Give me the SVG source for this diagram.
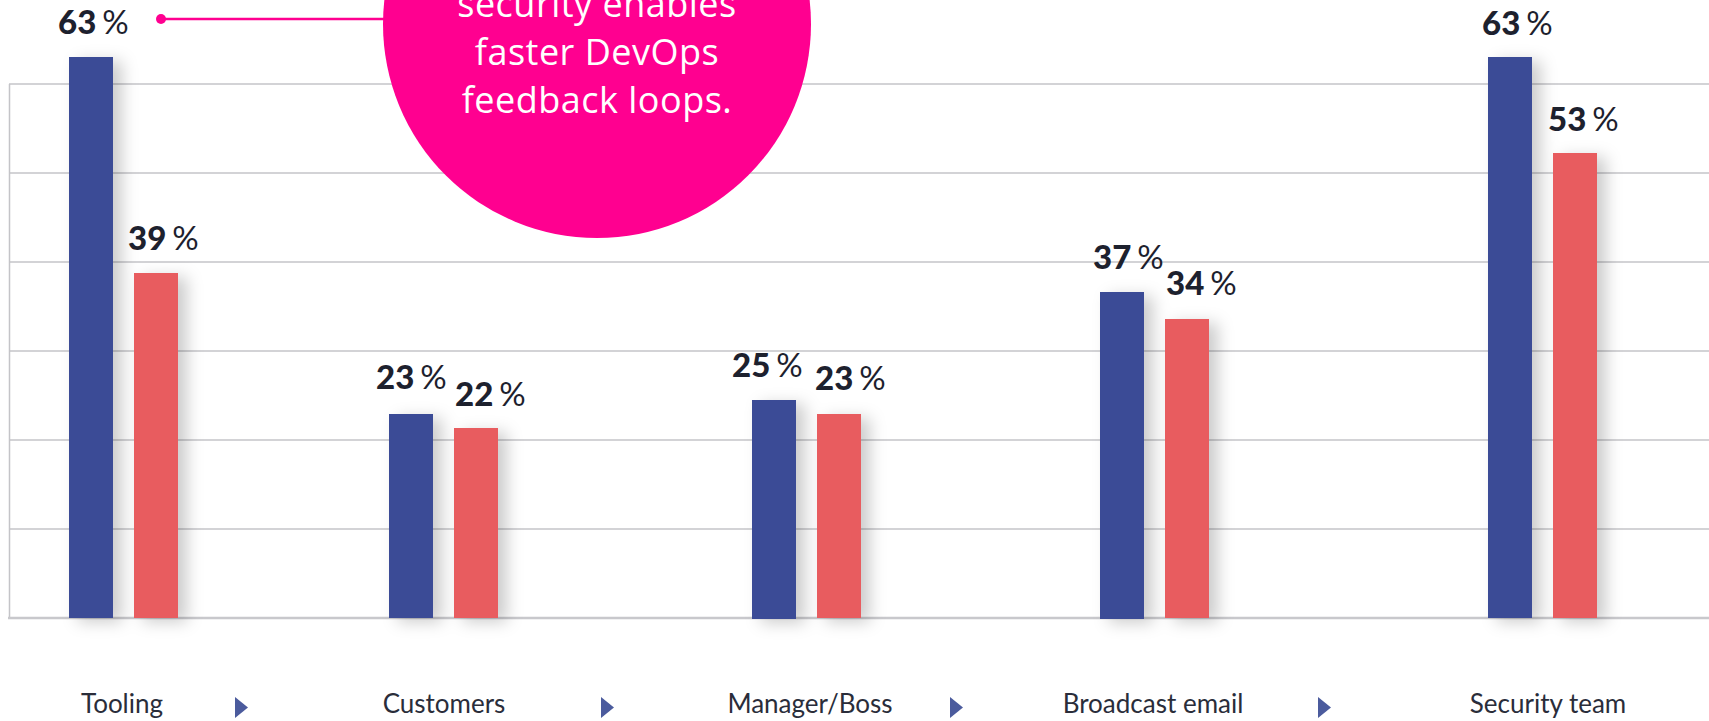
<svg xmlns="http://www.w3.org/2000/svg" width="1709" height="721" viewBox="0 0 1709 721">
<style>
.grid{stroke:#c4c4c8;stroke-width:1.5;fill:none}
.axis{stroke:#c8c8cc;stroke-width:2.5;fill:none}
.blue{fill:#3b4c96}
.red{fill:#e85c5f}
.pct{font-family:Lato,"Liberation Sans",sans-serif;font-size:33px;font-weight:900;fill:#1d212e}
.pct tspan.p{font-weight:400}
.cat{font-family:Lato,"Liberation Sans",sans-serif;font-size:26px;fill:#2a2d3a;text-anchor:middle}
.call{font-family:"Open Sans",Lato,sans-serif;font-size:36px;font-weight:400;letter-spacing:0.5px;fill:#ffffff;text-anchor:middle}
.tri{fill:#4b5b9d}
</style>
<defs>
<filter id="sh" x="-50%" y="-20%" width="250%" height="140%">
<feGaussianBlur in="SourceAlpha" stdDeviation="8"/>
<feOffset dx="9" dy="4" result="b"/>
<feFlood flood-color="#000" flood-opacity="0.2"/>
<feComposite in2="b" operator="in"/>
<feMerge><feMergeNode/><feMergeNode in="SourceGraphic"/></feMerge>
</filter>
</defs>
<rect width="1709" height="721" fill="#ffffff"/>
<g id="grid">
<line class="grid" x1="9" y1="84" x2="1709" y2="84"/>
<line class="grid" x1="9" y1="173" x2="1709" y2="173"/>
<line class="grid" x1="9" y1="262" x2="1709" y2="262"/>
<line class="grid" x1="9" y1="351" x2="1709" y2="351"/>
<line class="grid" x1="9" y1="440" x2="1709" y2="440"/>
<line class="grid" x1="9" y1="529" x2="1709" y2="529"/>
<line class="grid" x1="9.5" y1="84" x2="9.5" y2="618"/>
<line class="axis" x1="8" y1="618" x2="1709" y2="618"/>
</g>
<g id="bars" filter="url(#sh)">
<rect class="blue" x="69" y="57" width="44" height="561"/>
<rect class="red" x="134" y="273" width="44" height="345"/>
<rect class="blue" x="389" y="414" width="44" height="204"/>
<rect class="red" x="454" y="428" width="44" height="190"/>
<rect class="blue" x="752" y="400" width="44" height="219"/>
<rect class="red" x="817" y="414" width="44" height="204"/>
<rect class="blue" x="1100" y="292" width="44" height="327"/>
<rect class="red" x="1165" y="319" width="44" height="299"/>
<rect class="blue" x="1488" y="57" width="44" height="561"/>
<rect class="red" x="1553" y="153" width="44" height="465"/>
</g>
<g id="values">
<text class="pct" x="58" y="34">63<tspan class="p" dx="6">%</tspan></text>
<text class="pct" x="128" y="250">39<tspan class="p" dx="6">%</tspan></text>
<text class="pct" x="376" y="389">23<tspan class="p" dx="6">%</tspan></text>
<text class="pct" x="455" y="406">22<tspan class="p" dx="6">%</tspan></text>
<text class="pct" x="732" y="377">25<tspan class="p" dx="6">%</tspan></text>
<text class="pct" x="815" y="390">23<tspan class="p" dx="6">%</tspan></text>
<text class="pct" x="1093" y="269">37<tspan class="p" dx="6">%</tspan></text>
<text class="pct" x="1166" y="295">34<tspan class="p" dx="6">%</tspan></text>
<text class="pct" x="1482" y="35">63<tspan class="p" dx="6">%</tspan></text>
<text class="pct" x="1548" y="131">53<tspan class="p" dx="6">%</tspan></text>
</g>
<g id="callout">
<line x1="161" y1="19" x2="400" y2="19" stroke="#ff0090" stroke-width="2.5"/>
<circle cx="161" cy="19" r="5" fill="#ff0090"/>
<circle cx="597" cy="24" r="214" fill="#ff0090"/>
<text class="call" x="597" y="17">security enables</text>
<text class="call" x="597" y="65">faster DevOps</text>
<text class="call" x="597" y="113">feedback loops.</text>
</g>
<g id="categories">
<text class="cat" x="122" y="713">Tooling</text>
<text class="cat" x="444" y="713">Customers</text>
<text class="cat" x="810" y="713">Manager/Boss</text>
<text class="cat" x="1153" y="713">Broadcast email</text>
<text class="cat" x="1548" y="713">Security team</text>
</g>
<g id="connectors">
<polygon class="tri" points="235,697 248,707.5 235,718"/>
<polygon class="tri" points="601,697 614,707.5 601,718"/>
<polygon class="tri" points="950,697 963,707.5 950,718"/>
<polygon class="tri" points="1318,697 1331,707.5 1318,718"/>
</g>
</svg>
